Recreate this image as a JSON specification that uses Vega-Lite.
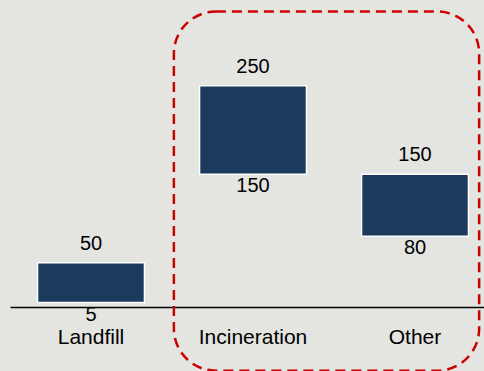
{
  "$schema": "https://vega.github.io/schema/vega-lite/v6.json",
  "width": 474,
  "height": 307,
  "padding": {"left": 10, "top": 0, "right": 0, "bottom": 64},
  "autosize": {"type": "none"},
  "background": "#e4e4e0",
  "config": {"view": {"stroke": null}, "font": "Liberation Sans"},
  "datasets": {
    "streams": [
      {"category": "Landfill", "low": 5, "high": 50},
      {"category": "Incineration", "low": 150, "high": 250},
      {"category": "Other", "low": 80, "high": 150}
    ],
    "group": [
      {"category": "Incineration", "category_end": "Other", "top": 334, "bottom": -72}
    ]
  },
  "layer": [
    {
      "data": {"name": "streams"},
      "mark": {"type": "bar", "color": "#1b3a5c", "stroke": "#ffffff", "strokeWidth": 1.5},
      "encoding": {
        "x": {
          "field": "category",
          "type": "nominal",
          "scale": {"domain": ["Landfill", "Incineration", "Other"], "range": [0, 486], "paddingInner": 0.34, "paddingOuter": 0.17},
          "axis": {
            "title": null,
            "domainColor": "#000000",
            "domainWidth": 1.5,
            "ticks": false,
            "tickSize": 0,
            "labelFontSize": 21,
            "labelColor": "#000000",
            "labelPadding": 19,
            "labelAngle": 0
          }
        },
        "y": {"field": "high", "type": "quantitative", "scale": {"domain": [0, 347], "nice": false}, "axis": null},
        "y2": {"field": "low"}
      }
    },
    {
      "data": {"name": "streams"},
      "mark": {"type": "text", "fontSize": 20, "color": "#000000", "baseline": "bottom", "dy": -9},
      "encoding": {
        "x": {"field": "category", "type": "nominal"},
        "y": {"field": "high", "type": "quantitative"},
        "text": {"field": "high", "type": "quantitative"}
      }
    },
    {
      "data": {"name": "streams"},
      "mark": {"type": "text", "fontSize": 20, "color": "#000000", "baseline": "top", "dy": 2},
      "encoding": {
        "x": {"field": "category", "type": "nominal"},
        "y": {"field": "low", "type": "quantitative"},
        "text": {"field": "low", "type": "quantitative"}
      }
    },
    {
      "data": {"name": "group"},
      "mark": {"type": "rect", "fill": null, "fillOpacity": 0, "stroke": "#cc0000", "strokeWidth": 2.5, "strokeDash": [10, 6], "cornerRadius": 42},
      "encoding": {
        "x": {"field": "category", "type": "nominal", "bandPosition": -0.24},
        "x2": {"field": "category_end", "bandPosition": 1.1},
        "y": {"field": "top", "type": "quantitative"},
        "y2": {"field": "bottom"}
      }
    }
  ]
}
